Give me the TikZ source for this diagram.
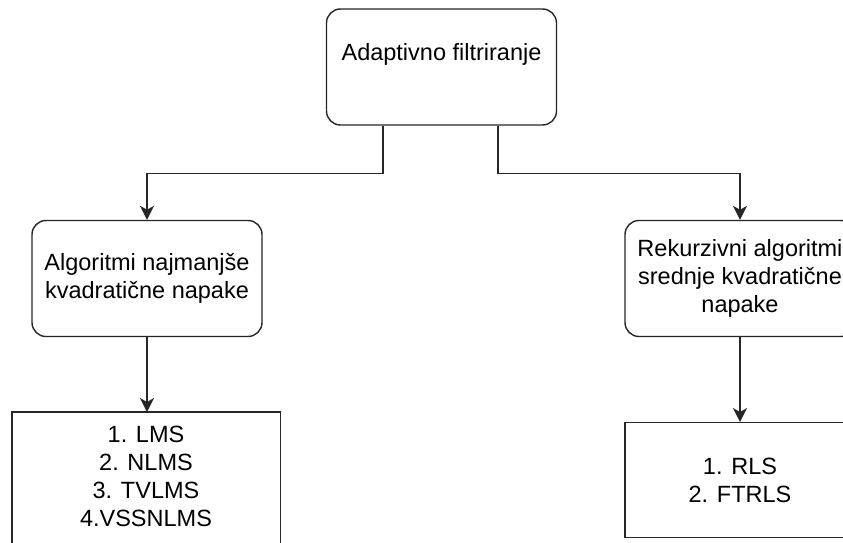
\documentclass[tikz,border=0pt]{standalone}
\usepackage{fontspec}
\setmainfont{Liberation Sans}
\usetikzlibrary{arrows.meta,calc}
\begin{document}
\begin{tikzpicture}[x=1pt,y=-1pt,
  every node/.style={font=\fontsize{23.5}{28}\selectfont, align=center, text=black},
  rbox/.style={draw=black!85, line width=1.4pt, rounded corners=14pt, minimum width=230pt, minimum height=116pt, inner sep=0pt},
  lbox/.style={inner sep=0pt},
  edgebox/.style={draw=black!85, line width=1.4pt},
  arr/.style={draw=black!85, line width=1.4pt, -{Stealth[length=14pt,width=14pt,inset=4pt]}},
  conn/.style={draw=black!85, line width=1.4pt}
]
\clip (0,0) rectangle (843,543);
\fill[white] (0,0) rectangle (843,543);

\node[rbox] (top) at (441.5,67) {Adaptivno filtriranje\\[2pt]};
\node[rbox] (alg) at (147,278.5) {Algoritmi najmanjše\\kvadratične napake};
\node[rbox] (rek) at (740,278.5) {Rekurzivni algoritmi\\srednje kvadratične\\napake};

\node[lbox, minimum width=268pt, minimum height=128pt, anchor=north] (lms) at (146,412) {1. LMS\\2. NLMS\\3. TVLMS\\4.VSSNLMS};
\draw[edgebox] (lms.north west) rectangle ([yshift=-30pt]lms.south east);

\node[draw=black!85, line width=1.4pt, minimum width=230pt, minimum height=115pt, anchor=north] (rls) at (740,422) {1. RLS\\2. FTRLS};

\draw[arr] ([xshift=-58.5pt]top.south) -- ++(0,48) -| (alg.north);
\draw[arr] ([xshift=56.5pt]top.south) -- ++(0,48) -| (rek.north);
\draw[arr] (alg.south) -- (alg.south |- lms.north);
\draw[arr] (rek.south) -- (rls.north);
\end{tikzpicture}
\end{document}
